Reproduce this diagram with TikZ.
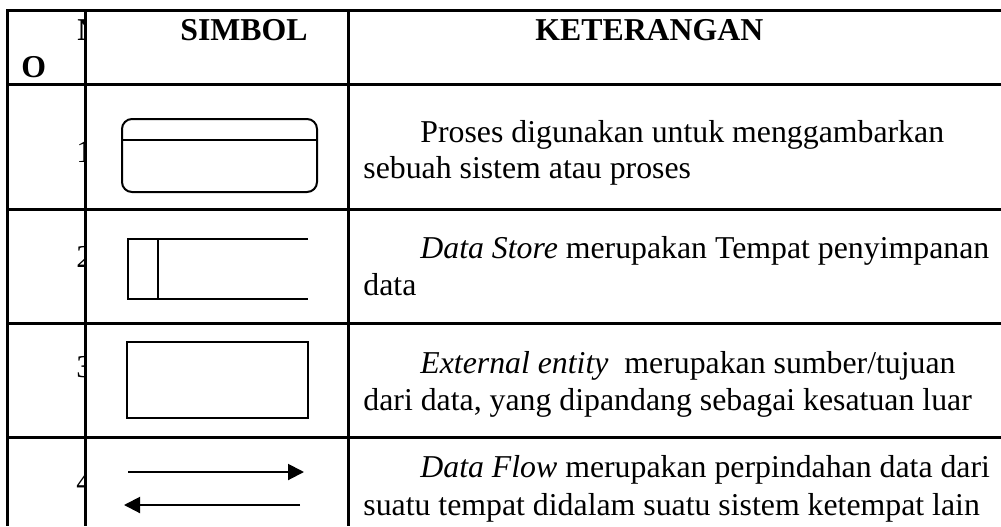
\documentclass[tikz,border=0pt]{standalone}
\usepackage{fontspec}
\setmainfont{Liberation Serif}
\usetikzlibrary{positioning,arrows.meta}
\tikzset{>={Triangle[length=8pt,width=8pt]}}
\tikzset{
  tline/.style={black, line width=1.5pt},
  sym/.style={black, line width=1pt},
  txt/.style={anchor=base west, inner sep=0pt, font=\fontsize{15.9pt}{18pt}\selectfont},
  hdr/.style={txt, font=\fontsize{15.9pt}{18pt}\selectfont\bfseries}
}

\begin{document}
\begin{tikzpicture}[x=0.5pt, y=-0.5pt]
      \useasboundingbox (0,0) rectangle (1001,526);
      \fill[white] (0,0) rectangle (1001,526);
      % table
      \draw[tline] (1001,10) -- (7,10) -- (7,526);
      \draw[tline] (85,10) -- (85,526);
      \draw[tline] (348,10) -- (348,526);
      \foreach \y in {84,209,323,437}
        \draw[tline] (7,\y) -- (1001,\y);
      % first column, cut at its right border
      \begin{scope}
        \clip (7,10) rectangle (85,526);
        \node[hdr] (hN) at (77,40) {N};
        \node[hdr] (hO) at (21,77) {O};
        \node[txt] (n1) at (76,162) {1};
        \node[txt] (n2) at (76,267) {2};
        \node[txt] (n3) at (76,377) {3};
        \node[txt] (n4) at (76,492) {4};
      \end{scope}
      \node[hdr] (hSimbol) at (180,40) {SIMBOL};
      \node[hdr] (hKet) at (535,40) {KETERANGAN};
      % symbols
      \draw[sym, rounded corners=5pt] (122,119) rectangle (317,192);
      \draw[sym] (122,140) -- (317,140);
      \draw[sym] (308,239) -- (128,239) -- (128,299) -- (308,299);
      \draw[sym] (158,239) -- (158,299);
      \draw[sym] (127,342) rectangle (308,418);
      \coordinate (f1a) at (128,472);
      \coordinate (f1b) at (304,472);
      \coordinate (f2a) at (300,505);
      \coordinate (f2b) at (124,505);
      \draw[sym, ->] (f1a) -- (f1b);
      \draw[sym, ->] (f2a) -- (f2b);
      % texts
      \node[txt] (t1a) at (420,142) {Proses digunakan untuk menggambarkan};
      \node[txt] (t1b) at (363,178) {sebuah sistem atau proses};
      \node[txt] (t2a) at (420,258) {\textit{Data Store} merupakan Tempat penyimpanan};
      \node[txt] (t2b) at (363,295) {data};
      \node[txt] (t3a) at (420,373) {\textit{External entity}\ \ merupakan sumber/tujuan};
      \node[txt] (t3b) at (363,410) {dari data, yang dipandang sebagai kesatuan luar};
      \node[txt] (t4a) at (420,477) {\textit{Data Flow} merupakan perpindahan data dari};
      \node[txt] (t4b) at (363,515) {suatu tempat didalam suatu sistem ketempat lain};
    \end{tikzpicture}
\end{document}
